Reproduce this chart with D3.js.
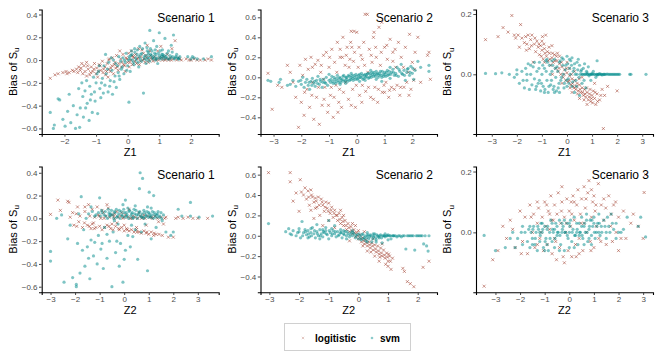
<!DOCTYPE html>
<html><head><meta charset="utf-8">
<script src="https://cdn.jsdelivr.net/npm/d3@7/dist/d3.min.js"></script>
<style>body{margin:0;background:#fff}svg{display:block}text{font-family:"Liberation Sans",Arial,sans-serif}</style>
</head><body><svg id="c" width="663" height="361"></svg>
<script>
// ---- data ----
const seriesNames = ["logitistic", "svm"];
const scenarioTitles = ["Scenario 1", "Scenario 2", "Scenario 3"];
const xLabels = ["Z1", "Z2"];

const s1z1_logistic = [[-2.45,-0.16],[-2.3,-0.13],[-2.2,-0.12],[-2.05,-0.11],[-1.95,-0.10],[-1.85,-0.11],[-1.75,-0.09],[-1.7,-0.1],[-1.62,-0.08],[-1.55,-0.06],[-1.5,-0.09],[-1.45,-0.03],[-1.42,-0.12],[-1.38,-0.05],[-1.35,-0.1],[-1.3,-0.02],[-1.25,-0.08],[-1.2,-0.13],[-1.15,-0.06],[-1.1,-0.1],[-1.05,-0.03],[-1.0,-0.12],[-0.98,-0.07],[-0.95,-0.15],[-0.9,-0.04],[-0.85,-0.09],[-0.8,-0.01],[-0.78,-0.11],[-0.72,-0.06],[-0.7,-0.13],[-0.65,-0.03],[-0.6,-0.08],[-0.58,0.01],[-0.55,-0.1],[-0.5,-0.05],[-0.48,0.02],[-0.45,-0.12],[-0.4,-0.02],[-0.38,-0.07],[-0.35,0.04],[-0.3,-0.09],[-0.28,-0.03],[-0.22,0.01],[-0.2,-0.06],[-0.15,0.05],[-0.12,-0.04],[-0.08,-0.1],[-0.05,0.02],[0.0,-0.02],[0.03,0.06],[0.05,-0.06],[0.1,0.0],[0.12,0.08],[0.15,-0.04],[0.2,0.02],[0.25,0.05],[0.28,-0.03],[0.3,0.01],[0.35,0.1],[0.4,-0.01],[0.42,0.03],[0.48,0.0],[0.5,0.06],[0.55,-0.02],[0.6,0.02],[0.62,0.13],[0.68,0.0],[0.72,0.04],[0.78,0.01],[0.8,-0.01],[0.85,0.03],[0.9,0.0],[0.95,0.08],[1.0,0.02],[1.05,0.12],[1.1,0.0],[1.15,0.03],[1.2,0.01],[1.25,0.05],[1.3,0.0],[1.35,0.02],[1.45,0.01],[1.5,0.17],[1.55,0.0],[1.6,0.02],[1.7,0.0],[1.85,0.01],[2.0,0.0],[2.1,0.01],[2.3,0.0],[2.45,0.0],[2.65,0.0],[-0.25,0.08],[0.45,0.09],[1.4,0.1],[-1.3,-0.14],[-0.62,-0.15],
 [-1.92,-0.12],[-1.58,-0.11],[-1.48,-0.07],[-1.27,-0.05],[-1.17,-0.11],[-1.07,-0.08],[-0.93,-0.1],[-0.87,-0.05],[-0.76,-0.08],[-0.67,-0.1],[-0.53,-0.07],[-0.42,-0.04],[-0.33,-0.06],[-0.18,-0.02],[-0.1,-0.05],[-0.02,0.01],[0.07,-0.02],[0.17,0.03],[0.23,-0.01],[0.33,0.02],[0.37,-0.04],[0.52,0.01],[0.58,0.04],[0.65,-0.02],[0.75,0.02],[0.88,0.01],[0.98,0.0],[1.08,0.02],[1.18,0.0],[1.28,0.01],[1.38,0.0],[1.65,0.01],[1.95,0.0],[2.2,0.0],[2.55,0.01],[0.7,0.08],[0.15,0.04],[-0.6,0.0]];
const s1z1_svm = [[-2.45,-0.46],[-2.35,-0.6],[-2.32,-0.57],[-2.2,-0.34],[-2.15,-0.35],[-2.05,-0.52],[-1.98,-0.58],[-1.9,-0.45],[-1.85,-0.3],[-1.8,-0.55],[-1.72,-0.4],[-1.65,-0.6],[-1.6,-0.48],[-1.55,-0.25],[-1.52,-0.59],[-1.5,-0.42],[-1.45,-0.2],[-1.42,-0.32],[-1.4,-0.5],[-1.35,-0.27],[-1.3,-0.18],[-1.28,-0.38],[-1.22,-0.53],[-1.2,-0.23],[-1.15,-0.3],[-1.12,-0.46],[-1.08,-0.15],[-1.05,-0.28],[-1.0,-0.2],[-0.95,-0.47],[-0.92,-0.1],[-0.88,-0.25],[-0.85,-0.33],[-0.8,-0.16],[-0.75,-0.05],[-0.72,-0.22],[-0.68,-0.12],[-0.62,-0.28],[-0.6,-0.02],[-0.55,-0.18],[-0.5,-0.09],[-0.48,-0.3],[-0.45,0.0],[-0.4,-0.14],[-0.36,-0.24],[-0.32,-0.05],[-0.28,0.03],[-0.25,-0.17],[-0.2,-0.08],[-0.15,0.02],[-0.12,-0.12],[-0.08,-0.02],[-0.05,0.06],[0.0,-0.05],[0.04,-0.37],[0.05,0.03],[0.08,-0.1],[0.12,0.08],[0.15,0.0],[0.2,-0.04],[0.22,0.1],[0.25,0.02],[0.3,0.05],[0.33,-0.02],[0.38,0.12],[0.4,0.01],[0.45,0.06],[0.5,-0.29],[0.52,0.03],[0.55,0.15],[0.6,0.0],[0.62,0.08],[0.68,0.02],[0.7,0.26],[0.72,0.1],[0.75,0.04],[0.8,0.01],[0.82,0.17],[0.85,0.06],[0.9,0.02],[0.92,0.12],[0.95,-0.03],[1.0,0.24],[1.0,0.04],[1.05,0.01],[1.1,0.09],[1.12,0.03],[1.18,0.19],[1.2,0.02],[1.25,0.06],[1.3,0.36],[1.32,0.01],[1.38,0.13],[1.42,0.03],[1.45,0.22],[1.5,0.02],[1.55,0.05],[1.6,0.01],[1.65,0.03],[1.9,0.03],[2.0,0.01],[2.05,0.03],[2.1,0.02],[2.2,0.01],[2.4,0.01],[2.65,0.03],[-0.7,0.05],[-0.3,-0.11],[0.1,0.04],[0.65,0.05],[0.88,0.0],[1.08,0.05],
 [0.07,0.01],[0.13,0.05],[0.18,-0.02],[0.23,0.07],[0.27,0.0],[0.31,0.09],[0.36,0.03],[0.41,0.05],[0.44,-0.01],[0.47,0.1],[0.53,0.01],[0.57,0.04],[0.61,0.11],[0.63,0.02],[0.66,0.07],[0.69,-0.01],[0.73,0.05],[0.77,0.08],[0.79,0.02],[0.83,0.03],[0.87,0.09],[0.89,0.05],[0.93,0.01],[0.97,0.06],[1.01,0.02],[1.03,0.08],[1.07,0.03],[1.11,0.05],[1.14,0.01],[1.16,0.04],[1.22,0.03],[1.27,0.01],[1.29,0.08],[1.34,0.04],[1.37,0.02],[1.41,0.07],[1.47,0.01],[1.52,0.03],[1.58,0.02],[1.63,0.01],[-0.97,-0.12],[-0.83,-0.2],[-0.77,-0.29],[-0.64,-0.08],[-0.57,-0.23],[-0.43,-0.19],[-0.38,-0.03],[-0.27,-0.14],[-0.17,-0.06],[-0.1,0.0],[-0.03,-0.09],[0.02,0.0],[-1.18,-0.35],[-1.33,-0.42],[-1.03,-0.36],[-0.9,-0.05],[-0.52,0.02],[-0.22,-0.01],[0.35,-0.06],[0.58,-0.03]];

const s2z1_logistic = [[-3.05,-0.32],[-3.2,0.04],[-2.85,-0.08],[-2.7,-0.1],[-2.5,0.12],[-2.4,0.05],[-2.3,-0.05],[-2.2,-0.2],[-2.1,-0.5],[-2.05,0.12],[-2.0,-0.25],[-1.95,0.02],[-1.9,-0.38],[-1.85,0.18],[-1.8,-0.12],[-1.75,0.08],[-1.7,-0.3],[-1.65,0.2],[-1.6,-0.05],[-1.55,-0.42],[-1.5,0.13],[-1.45,-0.2],[-1.4,0.17],[-1.35,-0.47],[-1.3,0.05],[-1.25,-0.28],[-1.2,0.22],[-1.15,-0.1],[-1.1,0.25],[-1.05,-0.35],[-1.0,0.1],[-0.95,-0.18],[-0.9,0.28],[-0.85,-0.4],[-0.8,0.15],[-0.75,-0.08],[-0.7,0.35],[-0.65,-0.25],[-0.6,0.2],[-0.55,-0.3],[-0.5,0.4],[-0.48,-0.15],[-0.42,0.12],[-0.4,-0.05],[-0.35,0.3],[-0.3,-0.22],[-0.25,0.18],[-0.2,0.46],[-0.15,-0.12],[-0.1,0.46],[-0.08,0.25],[-0.05,-0.3],[0.0,0.45],[0.05,0.1],[0.1,-0.18],[0.15,0.22],[0.2,-0.08],[0.25,0.35],[0.3,0.63],[0.32,-0.14],[0.38,0.63],[0.4,0.05],[0.45,0.28],[0.5,-0.2],[0.55,0.15],[0.6,0.4],[0.65,-0.1],[0.7,0.2],[0.75,-0.25],[0.8,0.5],[0.85,0.12],[0.9,0.55],[0.92,-0.15],[1.0,0.3],[1.05,-0.05],[1.1,0.18],[1.15,-0.2],[1.2,0.38],[1.25,-0.1],[1.3,0.25],[1.35,-0.12],[1.4,0.1],[1.45,-0.08],[1.5,0.35],[1.55,-0.18],[1.6,0.2],[1.7,-0.1],[1.75,0.3],[1.8,-0.05],[1.85,0.05],[1.9,0.43],[1.95,-0.12],[2.0,0.15],[2.05,-0.03],[2.1,0.25],[2.2,0.4],[2.3,-0.05],[2.55,0.22],[2.6,0.25],[2.65,-0.02],[-1.2,-0.02],[-0.2,-0.28],[0.6,-0.22],[1.0,-0.15],[-1.6,0.1],[-0.6,0.28],[0.2,0.18],[1.3,0.16],
 [-1.88,-0.15],[-1.62,-0.18],[-1.38,-0.1],[-1.18,-0.22],[-1.02,-0.28],[-0.92,-0.1],[-0.82,-0.2],[-0.72,0.05],[-0.62,-0.12],[-0.52,0.2],[-0.38,0.22],[-0.28,0.1],[-0.18,0.3],[-0.12,0.16],[-0.02,-0.08],[0.08,0.3],[0.18,-0.25],[0.28,0.12],[0.42,-0.1],[0.52,0.22],[0.68,0.3],[0.78,-0.12],[0.88,0.25],[0.98,-0.08],[1.08,0.32],[1.18,-0.13],[1.38,0.28],[1.58,-0.1],[1.68,0.1],[1.88,-0.18],[2.08,0.08],[-0.98,0.2],[-1.28,0.12],[-0.68,-0.35],[-0.22,0.35],[0.62,0.45]];
const s2z1_svm = [[-3.2,-0.03],[-3.1,-0.04],[-2.8,-0.05],[-2.75,-0.02],[-2.5,-0.08],[-2.4,-0.07],[-2.3,-0.03],[-2.2,-0.09],[-2.1,-0.04],[-2.0,-0.07],[-1.95,0.0],[-1.9,-0.1],[-1.85,-0.05],[-1.8,-0.02],[-1.75,-0.08],[-1.7,-0.12],[-1.65,-0.04],[-1.6,-0.01],[-1.55,-0.06],[-1.5,-0.09],[-1.45,-0.03],[-1.4,0.01],[-1.35,-0.07],[-1.3,-0.04],[-1.25,-0.1],[-1.2,-0.02],[-1.15,-0.05],[-1.1,0.0],[-1.05,-0.08],[-1.0,-0.03],[-0.95,-0.05],[-0.9,0.01],[-0.85,-0.06],[-0.8,-0.02],[-0.75,-0.04],[-0.7,0.02],[-0.65,-0.05],[-0.6,-0.01],[-0.55,-0.03],[-0.5,0.01],[-0.45,-0.04],[-0.4,0.0],[-0.35,-0.02],[-0.3,0.02],[-0.25,-0.03],[-0.2,0.0],[-0.15,-0.01],[-0.1,0.02],[-0.05,-0.02],[0.0,0.01],[0.05,-0.01],[0.1,0.03],[0.15,0.0],[0.2,0.02],[0.25,-0.01],[0.3,0.03],[0.35,0.01],[0.4,0.04],[0.45,0.0],[0.5,0.02],[0.55,0.05],[0.6,0.01],[0.65,0.03],[0.7,-0.02],[0.75,0.04],[0.8,0.02],[0.85,0.06],[0.9,0.0],[0.95,0.03],[1.0,0.05],[1.05,0.01],[1.1,0.07],[1.15,0.03],[1.2,-0.01],[1.25,0.05],[1.3,0.08],[1.35,0.02],[1.4,0.04],[1.45,0.1],[1.5,0.01],[1.55,0.06],[1.6,0.13],[1.65,0.03],[1.7,0.07],[1.75,-0.03],[1.8,0.05],[1.85,0.09],[1.9,0.02],[1.95,0.11],[2.0,0.04],[2.05,-0.02],[2.1,0.07],[2.2,0.16],[2.3,0.1],[2.6,0.12],[2.6,0.06],[-0.6,-0.07],[-0.2,0.04],[0.3,-0.03],[0.7,0.06],[1.2,0.1],[-1.0,0.03],[-0.4,-0.06],[0.1,-0.04],[0.5,0.07],[0.9,-0.04],
 [-0.93,-0.02],[-0.87,-0.04],[-0.82,0.0],[-0.77,-0.06],[-0.72,-0.01],[-0.67,-0.03],[-0.62,0.0],[-0.57,-0.05],[-0.52,-0.02],[-0.47,0.02],[-0.42,-0.03],[-0.37,0.0],[-0.33,-0.04],[-0.28,0.01],[-0.23,-0.02],[-0.18,0.02],[-0.13,-0.03],[-0.08,0.0],[-0.03,0.03],[0.02,-0.02],[0.07,0.02],[0.12,0.0],[0.17,0.04],[0.22,-0.02],[0.27,0.02],[0.32,0.0],[0.37,0.03],[0.42,-0.01],[0.47,0.04],[0.52,0.0],[0.57,0.03],[0.62,0.05],[0.67,0.01],[0.72,0.03],[0.77,0.0],[0.82,0.04],[0.87,0.02],[0.92,0.06],[0.97,0.01],[1.02,0.03],[1.07,0.05],[1.12,0.02],[1.17,0.06],[1.22,0.03],[1.32,0.05],[1.42,0.02],[1.52,0.08],[1.62,0.04],[1.72,0.02],[1.82,0.08],[1.92,0.05],[2.02,0.09],[-1.12,-0.06],[-1.22,-0.05],[-1.32,-0.02],[-1.42,-0.06],[-1.52,-0.04],[-1.62,-0.08],[-1.72,-0.05],[-2.02,-0.03]];

const s3z1_logistic = [[-3.25,0.115],[-2.75,0.125],[-2.55,0.155],[-2.35,0.14],[-2.2,0.195],[-2.1,0.13],[-2.05,0.12],[-1.95,0.13],[-1.9,0.09],[-1.85,0.165],[-1.8,0.12],[-1.7,0.105],[-1.65,0.125],[-1.6,0.1],[-1.55,0.13],[-1.5,0.085],[-1.45,0.115],[-1.4,0.13],[-1.35,0.04],[-1.3,0.1],[-1.25,0.075],[-1.2,0.11],[-1.15,0.09],[-1.1,0.065],[-1.05,0.095],[-1.0,0.08],[-0.95,0.05],[-0.9,0.085],[-0.85,0.13],[-0.82,0.06],[-0.78,0.075],[-0.75,0.045],[-0.7,0.07],[-0.65,0.03],[-0.6,0.055],[-0.55,0.04],[-0.5,0.065],[-0.45,0.02],[-0.4,0.045],[-0.35,0.01],[-0.3,0.035],[-0.25,0.0],[-0.2,0.025],[-0.15,-0.01],[-0.1,0.015],[-0.05,-0.02],[0.0,0.005],[0.05,-0.025],[0.1,-0.005],[0.15,-0.035],[0.2,-0.015],[0.25,-0.04],[0.3,-0.02],[0.35,-0.05],[0.4,-0.03],[0.45,-0.055],[0.5,-0.035],[0.55,-0.06],[0.6,-0.045],[0.65,-0.07],[0.7,-0.05],[0.75,-0.075],[0.8,-0.06],[0.85,-0.085],[0.9,-0.065],[0.95,-0.09],[1.0,-0.07],[1.05,-0.055],[1.1,-0.08],[1.15,-0.1],[1.2,-0.065],[1.3,-0.085],[1.4,-0.05],[1.45,-0.18],[1.5,-0.07],[2.0,-0.055],[-0.6,0.095],[-0.3,0.06],[0.0,0.04],[0.3,0.01],[0.6,-0.01],[-1.0,0.11],[-0.2,-0.03],[0.2,-0.06],[0.5,-0.08],[0.8,-0.1],[-0.9,0.04],[0.1,0.02],[1.1,-0.03],
 [-1.12,0.1],[-1.02,0.06],[-0.92,0.1],[-0.88,0.07],[-0.72,0.09],[-0.68,0.05],[-0.58,0.07],[-0.48,0.045],[-0.42,0.06],[-0.32,0.02],[-0.22,0.04],[-0.12,0.0],[-0.02,0.02],[0.08,-0.02],[0.12,-0.045],[0.22,-0.03],[0.28,-0.045],[0.38,-0.04],[0.42,-0.065],[0.52,-0.05],[0.62,-0.06],[0.68,-0.085],[0.72,-0.065],[0.78,-0.045],[0.88,-0.075],[0.92,-0.05],[0.98,-0.08],[1.02,-0.095],[1.12,-0.06],[1.22,-0.09],[-1.62,0.08],[-1.42,0.095],[-1.28,0.12],[-0.98,0.125],[-0.58,0.0],[-0.38,0.07],[0.18,0.0],[0.48,-0.015],[1.35,-0.07],[1.62,-0.04]];
const s3z1_svm = [[-3.25,0.003],[-2.85,0.002],[-2.6,0.005],[-2.3,0.0],[-2.1,-0.01],[-2.0,0.0],[-1.9,-0.03],[-1.8,0.01],[-1.7,-0.045],[-1.65,0.02],[-1.6,-0.02],[-1.55,0.035],[-1.5,-0.05],[-1.45,0.0],[-1.4,-0.035],[-1.35,0.025],[-1.3,-0.015],[-1.25,-0.05],[-1.2,0.01],[-1.15,-0.03],[-1.1,0.04],[-1.05,-0.055],[-1.0,0.0],[-0.95,-0.04],[-0.9,0.02],[-0.85,0.045],[-0.8,-0.02],[-0.75,-0.06],[-0.7,0.03],[-0.65,-0.035],[-0.6,0.01],[-0.55,-0.05],[-0.5,0.05],[-0.45,-0.01],[-0.4,0.025],[-0.35,-0.045],[-0.3,0.04],[-0.25,-0.02],[-0.2,0.055],[-0.15,0.0],[-0.1,-0.03],[-0.05,0.03],[0.0,0.06],[0.05,-0.015],[0.1,0.02],[0.15,0.045],[0.2,-0.04],[0.25,0.01],[0.3,0.035],[0.35,-0.02],[0.4,0.0],[0.45,0.05],[0.5,-0.07],[0.55,0.01],[0.6,-0.03],[0.65,0.02],[0.7,0.0],[0.75,-0.045],[0.8,0.005],[0.85,0.025],[0.9,0.0],[0.95,-0.02],[1.0,0.0],[1.05,0.01],[1.1,0.0],[1.15,-0.01],[1.2,0.045],[1.25,0.0],[1.3,0.002],[1.35,0.0],[1.4,-0.002],[1.45,0.0],[1.5,0.0],[1.6,0.001],[1.7,0.0],[1.8,0.0],[1.9,0.0],[2.0,0.0],[2.05,0.0],[2.1,0.0],[2.5,0.0],[2.55,0.0],[3.15,0.0],[-0.3,-0.06],[-0.6,0.045],[0.3,-0.06],[-1.1,-0.02],[0.0,-0.04],[0.5,0.03],[-0.8,0.05],[0.2,0.055],[0.7,0.035],[-1.3,0.04],[1.2,0.0],[0.6,0.0],[0.8,0.0],[1.0,0.003],[1.2,-0.003],[1.55,0.0],
 [-1.22,-0.04],[-1.12,0.02],[-1.02,-0.03],[-0.97,0.03],[-0.88,-0.05],[-0.83,0.01],[-0.78,0.04],[-0.72,-0.04],[-0.67,0.0],[-0.62,-0.02],[-0.57,0.03],[-0.52,-0.04],[-0.47,0.02],[-0.42,-0.055],[-0.37,0.01],[-0.32,-0.03],[-0.27,0.045],[-0.22,-0.01],[-0.17,0.03],[-0.12,-0.045],[-0.07,0.015],[-0.02,-0.02],[0.03,0.035],[0.08,-0.03],[0.13,0.0],[0.18,0.03],[0.23,-0.025],[0.28,0.02],[0.33,0.0],[0.38,-0.04],[0.43,0.015],[0.48,-0.01],[0.53,0.0],[0.58,0.015],[0.63,0.0],[0.68,-0.02],[0.73,0.0],[0.78,0.01],[0.83,0.0],[0.88,-0.005],[0.93,0.0],[0.98,0.0],[1.08,0.0],[1.18,0.0],[1.28,0.0],[1.38,0.0],[1.48,0.0],[1.65,0.0],[1.75,0.0],[1.85,0.0],[1.95,0.0],[-1.45,0.03],[-1.6,0.0],[-1.75,-0.02],[-2.0,0.015],[-0.9,-0.06],[-0.5,-0.06],[0.1,0.05],[0.4,0.04],[-0.15,0.05]];

const s1z2_logistic = [[-3.0,0.035],[-2.7,0.16],[-2.3,0.15],[-2.25,0.14],[-2.1,0.05],[-2.05,-0.06],[-1.95,0.04],[-1.93,-0.07],[-1.85,-0.03],[-1.8,0.02],[-1.7,-0.08],[-1.6,0.06],[-1.5,-0.06],[-1.45,0.12],[-1.4,0.02],[-1.35,-0.09],[-1.3,0.08],[-1.25,-0.04],[-1.2,0.01],[-1.15,-0.08],[-1.1,0.1],[-1.05,0.03],[-1.0,-0.07],[-0.95,0.0],[-0.9,-0.1],[-0.85,0.05],[-0.8,-0.08],[-0.75,0.02],[-0.7,-0.06],[-0.65,0.09],[-0.6,0.01],[-0.55,-0.09],[-0.5,0.03],[-0.45,-0.1],[-0.4,0.0],[-0.35,-0.07],[-0.3,0.06],[-0.25,0.01],[-0.2,-0.1],[-0.15,0.02],[-0.1,-0.08],[-0.05,0.0],[0.0,-0.11],[0.05,0.03],[0.1,-0.09],[0.15,0.01],[0.2,-0.11],[0.25,0.0],[0.3,-0.1],[0.35,0.02],[0.4,-0.12],[0.45,0.01],[0.5,-0.1],[0.55,0.0],[0.6,-0.12],[0.65,0.02],[0.7,-0.13],[0.75,0.01],[0.8,-0.11],[0.85,0.0],[0.9,-0.13],[0.95,0.02],[1.0,-0.14],[1.05,0.01],[1.1,-0.12],[1.15,0.0],[1.2,-0.15],[1.25,0.02],[1.3,-0.14],[1.35,0.0],[1.4,-0.03],[1.5,0.01],[1.6,-0.05],[1.65,0.0],[1.8,-0.165],[2.0,-0.165],[2.1,0.0],[2.4,0.0],[2.6,0.01],[2.8,0.0],[3.0,0.0],[3.4,0.0],[-0.7,0.12],[0.2,0.08],[-1.9,0.1],[-2.6,0.07],[0.6,0.05],[-0.3,-0.04],[0.9,-0.06],
 [-1.62,-0.04],[-1.42,-0.07],[-1.22,-0.09],[-1.02,0.02],[-0.82,0.0],[-0.62,-0.07],[-0.42,0.02],[-0.22,-0.09],[-0.02,0.01],[0.12,-0.1],[0.32,0.0],[0.52,-0.12],[0.72,0.0],[0.92,-0.12],[1.12,0.01],[1.22,-0.13],[1.42,-0.14],[1.55,-0.15],[-0.5,-0.05],[0.0,-0.06],[0.5,-0.08],[-1.3,-0.05],[-0.1,0.05],[0.8,0.03],[-0.9,0.07],[1.7,0.01],[2.2,0.01],[-2.2,0.01],[-1.6,0.1],[-0.4,0.04]];
const s1z2_svm = [[-3.0,-0.29],[-3.0,-0.375],[-2.75,0.0],[-2.55,0.03],[-2.45,-0.56],[-2.3,-0.18],[-2.2,-0.06],[-2.1,-0.52],[-1.95,-0.6],[-1.95,-0.58],[-1.9,-0.22],[-1.85,0.04],[-1.8,-0.48],[-1.75,0.19],[-1.7,-0.28],[-1.65,-0.1],[-1.6,-0.42],[-1.55,0.0],[-1.5,-0.25],[-1.45,0.04],[-1.4,-0.53],[-1.35,-0.19],[-1.3,0.06],[-1.25,-0.33],[-1.2,-0.21],[-1.15,0.03],[-1.1,-0.4],[-1.05,-0.15],[-1.0,0.18],[-0.95,-0.27],[-0.9,0.05],[-0.85,-0.44],[-0.8,-0.08],[-0.75,0.02],[-0.7,-0.35],[-0.65,0.08],[-0.6,-0.2],[-0.55,0.04],[-0.5,-0.6],[-0.45,-0.12],[-0.4,0.06],[-0.35,-0.3],[-0.3,0.01],[-0.25,-0.05],[-0.2,0.07],[-0.15,-0.22],[-0.1,0.03],[-0.05,-0.56],[0.0,0.05],[0.0,-0.36],[0.05,0.16],[0.1,0.02],[0.15,-0.15],[0.2,0.06],[0.25,-0.25],[0.3,0.04],[0.35,0.0],[0.4,0.08],[0.45,-0.1],[0.5,0.03],[0.55,-0.36],[0.6,0.05],[0.62,0.26],[0.65,0.40],[0.7,0.01],[0.75,0.35],[0.8,0.07],[0.85,-0.05],[0.9,0.03],[0.95,-0.46],[1.0,0.05],[1.02,0.23],[1.05,0.02],[1.1,-0.18],[1.15,0.06],[1.2,0.2],[1.25,0.03],[1.3,-0.08],[1.35,0.04],[1.4,0.01],[1.5,0.05],[1.55,-0.02],[1.7,-0.12],[1.9,-0.15],[2.0,-0.12],[2.2,0.08],[2.35,0.02],[2.7,0.14],[2.7,0.02],[3.05,0.01],[3.6,0.02],[-0.2,-0.42],[0.3,-0.06],[-0.6,0.03],[0.8,0.0],[1.1,0.09],[0.15,0.09],[-0.4,-0.02],
 [-0.97,0.02],[-0.92,0.07],[-0.82,0.03],[-0.77,0.06],[-0.68,0.0],[-0.62,0.05],[-0.57,0.02],[-0.52,0.07],[-0.47,0.03],[-0.42,0.0],[-0.37,0.05],[-0.32,0.08],[-0.27,0.02],[-0.22,0.04],[-0.17,0.0],[-0.12,0.06],[-0.07,0.02],[-0.02,0.08],[0.03,0.01],[0.08,0.05],[0.12,0.03],[0.18,0.0],[0.22,0.07],[0.27,0.02],[0.33,0.05],[0.38,0.01],[0.43,0.04],[0.48,0.07],[0.53,0.0],[0.58,0.03],[0.63,0.06],[0.68,0.02],[0.73,0.04],[0.78,0.01],[0.83,0.05],[0.88,0.02],[0.93,0.06],[0.98,0.01],[1.03,0.04],[1.08,0.01],[1.13,0.03],[1.18,0.0],[1.23,0.05],[1.28,0.01],[1.33,0.03],[1.38,0.06],[1.45,0.02],[1.52,0.0],[1.6,0.03],[-1.05,0.05],[-1.2,0.02],[-1.35,0.1],[-0.7,-0.14],[-0.3,-0.2],[0.05,-0.28],[0.35,-0.16],[-1.45,-0.35],[-0.9,-0.22],[0.7,-0.12],[0.45,0.11],[-0.05,0.12],[0.95,0.1]];

const s2z2_logistic = [[-3.03,0.62],[-2.3,0.62],[-2.3,0.53],[-1.96,0.55],[-2.1,0.42],[-2.0,0.24],[-1.85,0.4],[-1.8,0.47],[-1.75,0.36],[-1.7,0.44],[-1.65,0.3],[-1.6,0.45],[-1.55,0.38],[-1.5,0.33],[-1.45,0.37],[-1.4,0.28],[-1.35,0.38],[-1.3,0.2],[-1.25,0.36],[-1.2,0.3],[-1.15,0.24],[-1.1,0.33],[-1.05,0.27],[-1.0,0.32],[-0.95,0.22],[-0.9,0.28],[-0.85,0.18],[-0.8,0.25],[-0.75,0.2],[-0.7,0.15],[-0.65,0.22],[-0.6,0.12],[-0.55,0.18],[-0.5,0.1],[-0.45,0.15],[-0.4,0.06],[-0.35,0.12],[-0.3,0.04],[-0.25,0.09],[-0.2,0.02],[-0.15,0.06],[-0.1,-0.01],[-0.05,0.03],[0.0,-0.03],[0.05,0.01],[0.1,-0.06],[0.15,-0.02],[0.2,-0.08],[0.25,-0.04],[0.3,-0.1],[0.35,-0.06],[0.4,-0.12],[0.45,-0.07],[0.5,-0.14],[0.55,-0.09],[0.6,-0.16],[0.65,-0.1],[0.7,-0.18],[0.75,-0.12],[0.8,-0.2],[0.85,-0.14],[0.9,-0.22],[0.95,-0.17],[1.0,-0.25],[1.05,-0.2],[1.1,-0.33],[1.0,-0.3],[1.15,-0.22],[1.5,-0.32],[1.55,-0.35],[1.65,-0.45],[1.75,-0.47],[1.87,-0.5],[2.18,-0.31],[2.38,-0.25],[-1.2,0.1],[-0.8,0.08],[-0.3,-0.05],[0.2,0.04],[0.5,-0.03],[-1.5,0.17],[-0.6,0.25],[0.3,-0.15],[0.8,-0.08],[-2.2,0.34],[-1.0,0.15],[-0.1,0.1],[0.7,-0.25],
 [-1.92,0.43],[-1.68,0.38],[-1.58,0.4],[-1.42,0.34],[-1.32,0.3],[-1.22,0.33],[-1.12,0.28],[-1.02,0.24],[-0.92,0.25],[-0.82,0.22],[-0.72,0.2],[-0.62,0.16],[-0.52,0.14],[-0.42,0.1],[-0.32,0.08],[-0.22,0.05],[-0.12,0.03],[-0.02,0.0],[0.08,-0.03],[0.18,-0.05],[0.28,-0.07],[0.38,-0.09],[0.48,-0.1],[0.58,-0.13],[0.68,-0.15],[0.78,-0.17],[0.88,-0.19],[0.98,-0.21],[1.08,-0.25],[0.92,-0.28],[0.72,-0.21],[0.42,-0.16],[0.15,-0.1],[-0.2,0.12],[-0.5,0.2],[-1.6,0.25],[-1.45,0.27],[1.02,-0.18],[0.55,-0.2],[0.0,0.05]];
const s2z2_svm = [[-3.03,0.12],[-2.35,0.07],[-2.3,0.02],[-2.2,0.05],[-2.1,0.0],[-2.0,0.04],[-1.95,-0.02],[-1.9,0.14],[-1.85,0.03],[-1.8,0.06],[-1.75,0.01],[-1.7,0.05],[-1.65,-0.01],[-1.6,0.03],[-1.55,0.08],[-1.5,0.02],[-1.45,-0.02],[-1.4,0.04],[-1.35,0.0],[-1.3,0.06],[-1.25,0.02],[-1.2,-0.01],[-1.15,0.03],[-1.1,0.05],[-1.05,0.01],[-1.0,0.15],[-0.95,0.03],[-0.9,0.0],[-0.85,0.05],[-0.8,0.02],[-0.75,-0.01],[-0.7,0.04],[-0.65,0.01],[-0.6,0.03],[-0.55,-0.02],[-0.5,0.02],[-0.45,0.04],[-0.4,0.0],[-0.35,0.02],[-0.3,-0.01],[-0.25,0.03],[-0.2,0.0],[-0.15,0.02],[-0.1,-0.02],[-0.05,0.01],[0.0,-0.03],[0.05,0.0],[0.1,-0.04],[0.15,0.02],[0.2,-0.02],[0.25,-0.05],[0.3,0.0],[0.35,-0.03],[0.4,0.01],[0.45,-0.06],[0.5,-0.01],[0.55,0.02],[0.6,-0.04],[0.65,0.0],[0.7,-0.02],[0.75,0.01],[0.8,-0.07],[0.85,0.0],[0.9,-0.01],[0.95,0.0],[1.0,0.01],[1.05,0.0],[1.1,-0.03],[1.15,0.0],[1.2,0.0],[1.3,-0.01],[1.4,0.0],[1.5,0.0],[1.6,-0.13],[1.7,0.0],[1.8,0.0],[1.9,-0.14],[2.0,0.0],[2.1,0.0],[2.2,-0.08],[2.3,-0.1],[2.35,-0.15],[2.38,0.0],[-1.0,-0.03],[-0.6,0.06],[-1.6,0.07],[-1.3,-0.03],[-0.2,0.05],[0.3,0.03],[0.9,0.02],[-1.1,0.08],[-0.8,0.1],[-0.4,-0.03],[0.5,0.02],[1.25,0.0],[1.75,0.0],[-1.4,0.11],
 [-2.45,0.04],[-2.25,0.01],[-2.05,0.03],[-1.88,0.0],[-1.78,0.04],[-1.68,0.02],[-1.58,0.0],[-1.48,0.05],[-1.38,0.02],[-1.28,0.0],[-1.18,0.04],[-1.08,0.02],[-0.98,0.05],[-0.88,0.02],[-0.78,0.04],[-0.68,0.0],[-0.58,0.03],[-0.48,0.01],[-0.38,0.04],[-0.28,0.01],[-0.18,0.03],[-0.08,0.0],[0.02,0.02],[0.08,-0.02],[0.12,0.01],[0.18,-0.03],[0.22,0.0],[0.28,-0.02],[0.32,0.01],[0.38,-0.01],[0.42,0.0],[0.48,-0.03],[0.52,0.0],[0.58,-0.02],[0.62,0.01],[0.68,-0.01],[0.72,0.0],[0.78,-0.02],[0.82,0.0],[0.88,0.0],[0.98,0.0],[1.08,0.0],[1.18,0.0],[1.35,0.0],[1.45,-0.01],[1.55,0.0],[1.65,0.0],[1.85,0.0],[1.95,0.0],[2.05,0.0],[2.15,0.0],[2.25,0.0],[-2.0,0.07],[-1.2,0.06],[-0.5,0.05],[-0.9,0.07],[-1.7,-0.02],[0.3,-0.06],[0.6,-0.06],[1.0,-0.04]];

const s3z2_logistic = [[-3.46,-0.177],[-3.11,-0.09],[-2.9,-0.06],[-2.7,0.02],[-2.55,-0.02],[-2.4,0.04],[-2.2,-0.05],[-2.0,0.07],[-1.9,-0.03],[-1.8,0.05],[-1.7,-0.07],[-1.6,0.09],[-1.5,0.0],[-1.45,0.06],[-1.4,-0.05],[-1.3,0.03],[-1.25,0.08],[-1.2,-0.02],[-1.1,0.05],[-1.05,-0.06],[-1.0,0.1],[-0.95,0.02],[-0.9,-0.04],[-0.85,0.07],[-0.8,0.01],[-0.75,0.12],[-0.7,-0.07],[-0.65,0.04],[-0.6,0.09],[-0.55,-0.03],[-0.5,0.06],[-0.45,0.13],[-0.4,-0.05],[-0.35,0.03],[-0.3,0.1],[-0.25,-0.08],[-0.2,0.05],[-0.15,0.0],[-0.1,0.11],[-0.05,-0.06],[0.0,0.07],[0.05,0.02],[0.1,-0.08],[0.15,0.12],[0.2,0.04],[0.25,-0.04],[0.3,0.09],[0.35,0.14],[0.4,-0.02],[0.45,0.06],[0.5,0.11],[0.55,-0.06],[0.6,0.03],[0.65,0.08],[0.7,0.0],[0.75,0.13],[0.8,0.17],[0.85,-0.03],[0.9,0.05],[0.95,0.1],[1.0,-0.05],[1.05,0.07],[1.1,0.02],[1.18,0.16],[1.2,-0.02],[1.3,0.09],[1.4,0.04],[1.5,-0.04],[1.6,0.12],[1.7,0.06],[1.75,-0.03],[1.8,0.09],[1.9,0.0],[2.0,0.05],[2.1,-0.02],[2.2,0.07],[2.5,0.03],[2.8,0.02],[3.04,0.131],[3.1,0.19],[3.0,-0.02],[-0.6,-0.02],[0.2,0.1],[0.9,0.14],[-1.3,0.1],[0.4,-0.07],[-0.3,0.15],[1.4,0.11],
 [-2.3,0.01],[-1.95,-0.07],[-1.55,0.05],[-1.15,0.0],[-0.92,0.09],[-0.72,0.04],[-0.52,-0.09],[-0.32,0.07],[-0.12,0.03],[0.08,0.1],[0.28,-0.08],[0.48,0.03],[0.68,0.11],[0.88,-0.06],[1.08,0.09],[1.28,-0.03],[1.48,0.08],[1.68,0.02],[1.88,0.1],[2.3,-0.02],[2.6,0.06],[-0.2,-0.1],[0.6,0.15],[1.0,0.12],[0.1,0.06],[-0.8,0.06],[-1.3,-0.04],[2.0,-0.06]];
const s3z2_svm = [[-3.46,-0.01],[-3.0,-0.06],[-2.6,-0.05],[-2.4,-0.02],[-2.2,-0.05],[-2.1,-0.02],[-1.95,0.0],[-1.9,-0.04],[-1.8,0.0],[-1.7,-0.03],[-1.65,0.01],[-1.6,-0.05],[-1.55,0.0],[-1.5,-0.02],[-1.45,0.02],[-1.4,-0.04],[-1.35,0.0],[-1.3,-0.06],[-1.25,0.01],[-1.2,-0.03],[-1.15,0.03],[-1.1,0.0],[-1.05,-0.05],[-1.0,0.02],[-0.95,-0.02],[-0.9,0.01],[-0.85,-0.06],[-0.8,0.0],[-0.75,0.04],[-0.7,-0.03],[-0.65,0.0],[-0.6,-0.05],[-0.55,0.03],[-0.5,-0.01],[-0.45,0.0],[-0.4,0.04],[-0.35,-0.04],[-0.3,0.0],[-0.25,0.02],[-0.2,-0.06],[-0.15,0.0],[-0.1,0.03],[-0.05,-0.02],[0.0,0.0],[0.05,0.04],[0.1,-0.03],[0.15,0.01],[0.2,0.05],[0.25,-0.01],[0.3,0.0],[0.35,-0.04],[0.4,0.03],[0.45,0.0],[0.5,0.05],[0.55,-0.02],[0.6,0.02],[0.65,0.0],[0.7,0.06],[0.75,-0.03],[0.8,0.01],[0.85,0.04],[0.9,-0.01],[0.95,0.02],[1.0,0.05],[1.05,-0.02],[1.1,0.0],[1.15,0.03],[1.2,0.06],[1.25,-0.01],[1.3,0.02],[1.4,0.04],[1.5,0.0],[1.6,0.02],[1.7,0.06],[1.8,0.01],[1.9,-0.02],[2.0,0.0],[2.2,0.01],[2.35,0.05],[2.8,0.02],[2.9,0.05],[3.1,-0.015],[-0.9,-0.04],[-0.5,0.02],[0.0,-0.05],[0.3,0.03],[0.6,-0.04],[-1.2,0.0],[-0.2,0.04],[0.8,-0.02],[1.2,0.0],[-1.6,0.02],[0.4,-0.01],[-0.6,0.01],
 [-1.48,0.01],[-1.38,-0.02],[-1.28,0.02],[-1.18,-0.01],[-1.08,0.01],[-0.98,-0.03],[-0.88,0.02],[-0.78,-0.02],[-0.68,0.01],[-0.58,-0.02],[-0.48,0.0],[-0.38,-0.01],[-0.28,0.01],[-0.18,0.0],[-0.08,-0.01],[0.02,0.02],[0.12,0.0],[0.22,-0.01],[0.32,0.01],[0.42,0.0],[0.52,-0.01],[0.62,0.03],[0.72,0.0],[0.82,0.02],[0.92,0.04],[1.02,0.0],[1.12,0.02],[1.22,0.03],[1.32,0.0],[1.45,0.02],[1.55,0.05],[1.65,0.0],[1.75,0.03],[-1.0,-0.06],[-0.4,-0.06],[0.2,-0.05],[0.9,-0.04],[-0.7,0.03],[0.0,0.03],[0.5,0.02],[1.0,0.03],[1.5,-0.02],[-1.1,0.03],[-0.3,0.03],[0.7,0.04],[-1.5,-0.04],[-1.9,0.02],[2.1,0.0],[-2.3,0.0],[1.9,0.03]];

// tick values per panel
const yTicksWide = [-0.6,-0.4,-0.2,0,0.2,0.4];
const yTicksMid = [-0.4,-0.2,0,0.2,0.4,0.6];
const yTicksNarrow = [0,0.2];
const xTicks12 = [-2,-1,0,1,2];
const xTicks32 = [-3,-2,-1,0,1,2];
const xTicks33 = [-3,-2,-1,0,1,2,3];

// ---- layout / panels ----
const colors = {logistic: "#9E3726", svm: "#008B8B"};
const panels = [
  {left:41.7,top:9.5,w:177,h:124.5,xd:[-2.72,2.88],yd:[-0.649,0.444],xt:xTicks12,yt:yTicksWide,log:s1z1_logistic,svm:s1z1_svm,title:scenarioTitles[0],xlab:xLabels[0]},
  {left:260.5,top:9.5,w:176.5,h:124.5,xd:[-3.47,2.89],yd:[-0.567,0.678],xt:xTicks32,yt:yTicksMid,log:s2z1_logistic,svm:s2z1_svm,title:scenarioTitles[1],xlab:xLabels[0]},
  {left:476,top:9.5,w:177,h:124.5,xd:[-3.63,3.43],yd:[-0.198,0.215],xt:xTicks33,yt:yTicksNarrow,log:s3z1_logistic,svm:s3z1_svm,title:scenarioTitles[2],xlab:xLabels[0]},
  {left:41.7,top:166.5,w:177,h:125.8,xd:[-3.36,3.85],yd:[-0.649,0.455],xt:xTicks33,yt:yTicksWide,log:s1z2_logistic,svm:s1z2_svm,title:scenarioTitles[0],xlab:xLabels[1]},
  {left:260.5,top:166.5,w:176.5,h:125.8,xd:[-3.30,2.65],yd:[-0.555,0.68],xt:xTicks32,yt:yTicksMid,log:s2z2_logistic,svm:s2z2_svm,title:scenarioTitles[1],xlab:xLabels[1]},
  {left:476,top:166.5,w:177,h:125.8,xd:[-3.79,3.4],yd:[-0.197,0.2165],xt:xTicks33,yt:yTicksNarrow,log:s3z2_logistic,svm:s3z2_svm,title:scenarioTitles[2],xlab:xLabels[1]}
];

const svg = d3.select("#c");
const minus = s => s.replace("-", "\u2212");
const fmtY = v => minus(d3.format(".1f")(v));
const fmtX = v => minus(d3.format("d")(v));
const crossPath = "M-1.5,-1.5L1.5,1.5M-1.5,1.5L1.5,-1.5";

panels.forEach(p => {
  const x = d3.scaleLinear().domain(p.xd).range([0, p.w]);
  const y = d3.scaleLinear().domain(p.yd).range([p.h, 0]);
  const g = svg.append("g").attr("transform", `translate(${p.left},${p.top})`);

  g.append("g").selectAll("path").data(p.log).join("path")
    .attr("d", crossPath).attr("transform", d => `translate(${x(d[0])},${y(d[1])})`)
    .attr("stroke", colors.logistic).attr("stroke-width", 0.85).attr("fill", "none").attr("opacity", 0.62);
  g.append("g").selectAll("circle").data(p.svm).join("circle")
    .attr("cx", d => x(d[0])).attr("cy", d => y(d[1])).attr("r", 1.6)
    .attr("fill", colors.svm).attr("opacity", 0.5);

  const ax = g.append("g").attr("transform", `translate(0,${p.h})`)
    .call(d3.axisBottom(x).tickValues(p.xt).tickFormat(fmtX).tickSizeOuter(0).tickSize(2.7).tickPadding(1.5));
  const ay = g.append("g")
    .call(d3.axisLeft(y).tickValues(p.yt).tickFormat(fmtY).tickSizeOuter(0).tickSize(2.7).tickPadding(1.5));
  [ax, ay].forEach(a => {
    a.select(".domain").attr("stroke", "#000").attr("stroke-width", 1.1);
    a.selectAll(".tick line").attr("stroke", "#333").attr("stroke-width", 0.9);
    a.selectAll(".tick text").attr("fill", "#4D4D4D").attr("font-size", 8)
      .attr("font-family", "'Liberation Sans', Arial, sans-serif");
  });

  g.append("text").attr("x", p.w - 4).attr("y", 12.5).attr("text-anchor", "end")
    .attr("font-size", 12).attr("fill", "#000").text(p.title);

  g.append("text").attr("x", p.w / 2).attr("y", p.h + 21.5).attr("text-anchor", "middle")
    .attr("font-size", 11).attr("fill", "#000").text(p.xlab);

  const yt = g.append("text").attr("transform", `translate(${-25},${p.h / 2}) rotate(-90)`)
    .attr("text-anchor", "middle").attr("font-size", 11).attr("fill", "#000");
  yt.append("tspan").text("Bias of S");
  yt.append("tspan").attr("font-size", 8).attr("dy", 2.5).text("u");
});

// legend
const lg = svg.append("g");
lg.append("rect").attr("x", 284.5).attr("y", 323.5).attr("width", 126).attr("height", 27)
  .attr("fill", "#fff").attr("stroke", "#d0d0d0").attr("stroke-width", 1);
lg.append("path").attr("d", "M-1.2,-1.2L1.2,1.2M-1.2,1.2L1.2,-1.2").attr("transform", "translate(303,338)")
  .attr("stroke", colors.logistic).attr("stroke-width", 0.8).attr("fill", "none").attr("opacity", 0.35);
lg.append("text").attr("x", 315).attr("y", 341.5).attr("font-size", 10).attr("font-weight", "bold").text(seriesNames[0]);
lg.append("circle").attr("cx", 372).attr("cy", 338).attr("r", 1.3).attr("fill", colors.svm).attr("opacity", 0.45);
lg.append("text").attr("x", 380).attr("y", 341.5).attr("font-size", 10).attr("font-weight", "bold").text(seriesNames[1]);
</script></body></html>
